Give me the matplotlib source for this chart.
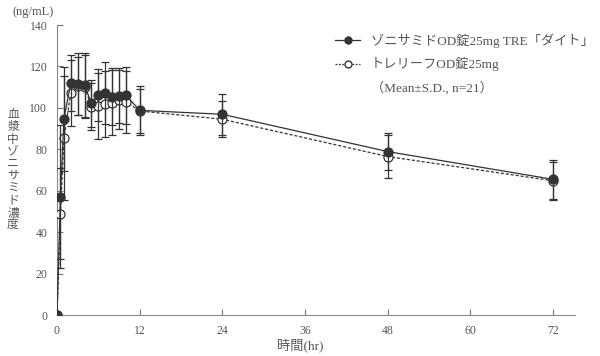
import matplotlib
matplotlib.use("Agg")
import matplotlib.pyplot as plt
from matplotlib.lines import Line2D

plt.rcParams['font.family'] = ['Liberation Serif', 'Noto Sans CJK JP', 'DejaVu Sans']

time = [0, 0.5, 1, 2, 3, 4, 5, 6, 7, 8, 9, 10, 12, 24, 48, 72]
test_mean = [0, 57, 94.5, 112, 111.5, 110.9, 102.2, 106.2, 107.3, 105.4, 105.9, 106.1, 98.8, 96.9, 78.9, 65.5]
test_sd = [0, 34.5, 25, 13.5, 14.8, 15.4, 11.3, 12.4, 14.9, 13.9, 13.4, 13.7, 11.8, 9.8, 9.1, 9.3]
ref_mean = [0, 49, 85.3, 107.3, 110.5, 110.3, 100.6, 100.9, 101.9, 102.4, 104, 102.9, 98.5, 94.5, 76.5, 64.8]
ref_sd = [0, 22, 30, 16, 14, 15, 11.3, 16, 16, 15.7, 14.3, 15, 10.5, 8.8, 10.5, 9.2]

xticks = [0, 12, 24, 36, 48, 60, 72]
yticks = [0, 20, 40, 60, 80, 100, 120, 140]

label_test = 'ゾニサミドOD錠25mg TRE「ダイト」'
label_ref = 'トレリーフOD錠25mg'
label_note = '（Mean±S.D., n=21）'

dark = '#333333'
txt = '#555555'

fig = plt.figure(figsize=(6, 3.56), dpi=100)
ax = fig.add_axes([57/600, 1-315/356, (575-57)/600, (315-25)/356])

ax.errorbar(time, ref_mean, yerr=ref_sd, fmt='o', ms=6.5, mfc='white', mec=dark,
            mew=0.9, color=dark, ls=(0, (2.5, 1.5)), lw=0.9, elinewidth=0.9,
            capsize=3, capthick=0.9, zorder=2)
ax.errorbar(time, test_mean, yerr=test_sd, fmt='o', ms=6.5, mfc=dark, mec=dark,
            mew=0.9, color=dark, ls='-', lw=0.9, elinewidth=0.9,
            capsize=3, capthick=0.9, zorder=3)

ax.set_xlim(0, 75.2)
ax.set_ylim(0, 140)
ax.set_xticks(xticks)
ax.set_yticks(yticks)
ax.tick_params(direction='in', length=4, width=0.8, colors='#777777',
               labelcolor=txt, labelsize=8.5, pad=7)
for s in ['top', 'right']:
    ax.spines[s].set_visible(False)
for s in ['left', 'bottom']:
    ax.spines[s].set_color('#888888')
    ax.spines[s].set_linewidth(0.8)
ax.spines['left'].set_zorder(0)

fig.text(33/600, 1-12/356, '(ng/mL)', ha='center', va='center', fontsize=9, color=txt)
fig.text(300/600, 1-345/356, '時間(hr)', ha='center', va='center', fontsize=9.5, color=txt)
ylab = '血漿中ゾニサミド濃度'
fig.text(13/600, 1-170/356, '\n'.join(ylab), ha='center', va='center', fontsize=8.5,
         color=txt, linespacing=1.02)

h1 = Line2D([], [], color=dark, lw=0.9, marker='o', ms=5, mfc=dark, mec=dark)
h2 = Line2D([], [], color=dark, lw=0.9, ls=(0, (1.5, 1.2)), marker='o', ms=5,
            mfc='white', mec=dark)
h3 = Line2D([], [], color='none')
leg = ax.legend([h1, h2, h3], [label_test, label_ref, label_note], frameon=False,
                loc='upper left', bbox_to_anchor=(335/600, 1-33/356),
                bbox_transform=fig.transFigure, fontsize=9.5, handlelength=1.9,
                handletextpad=0.8, labelspacing=0.75, borderpad=0, borderaxespad=0)
for t in leg.get_texts():
    t.set_color(txt)

fig.savefig('out.png', dpi=100)
